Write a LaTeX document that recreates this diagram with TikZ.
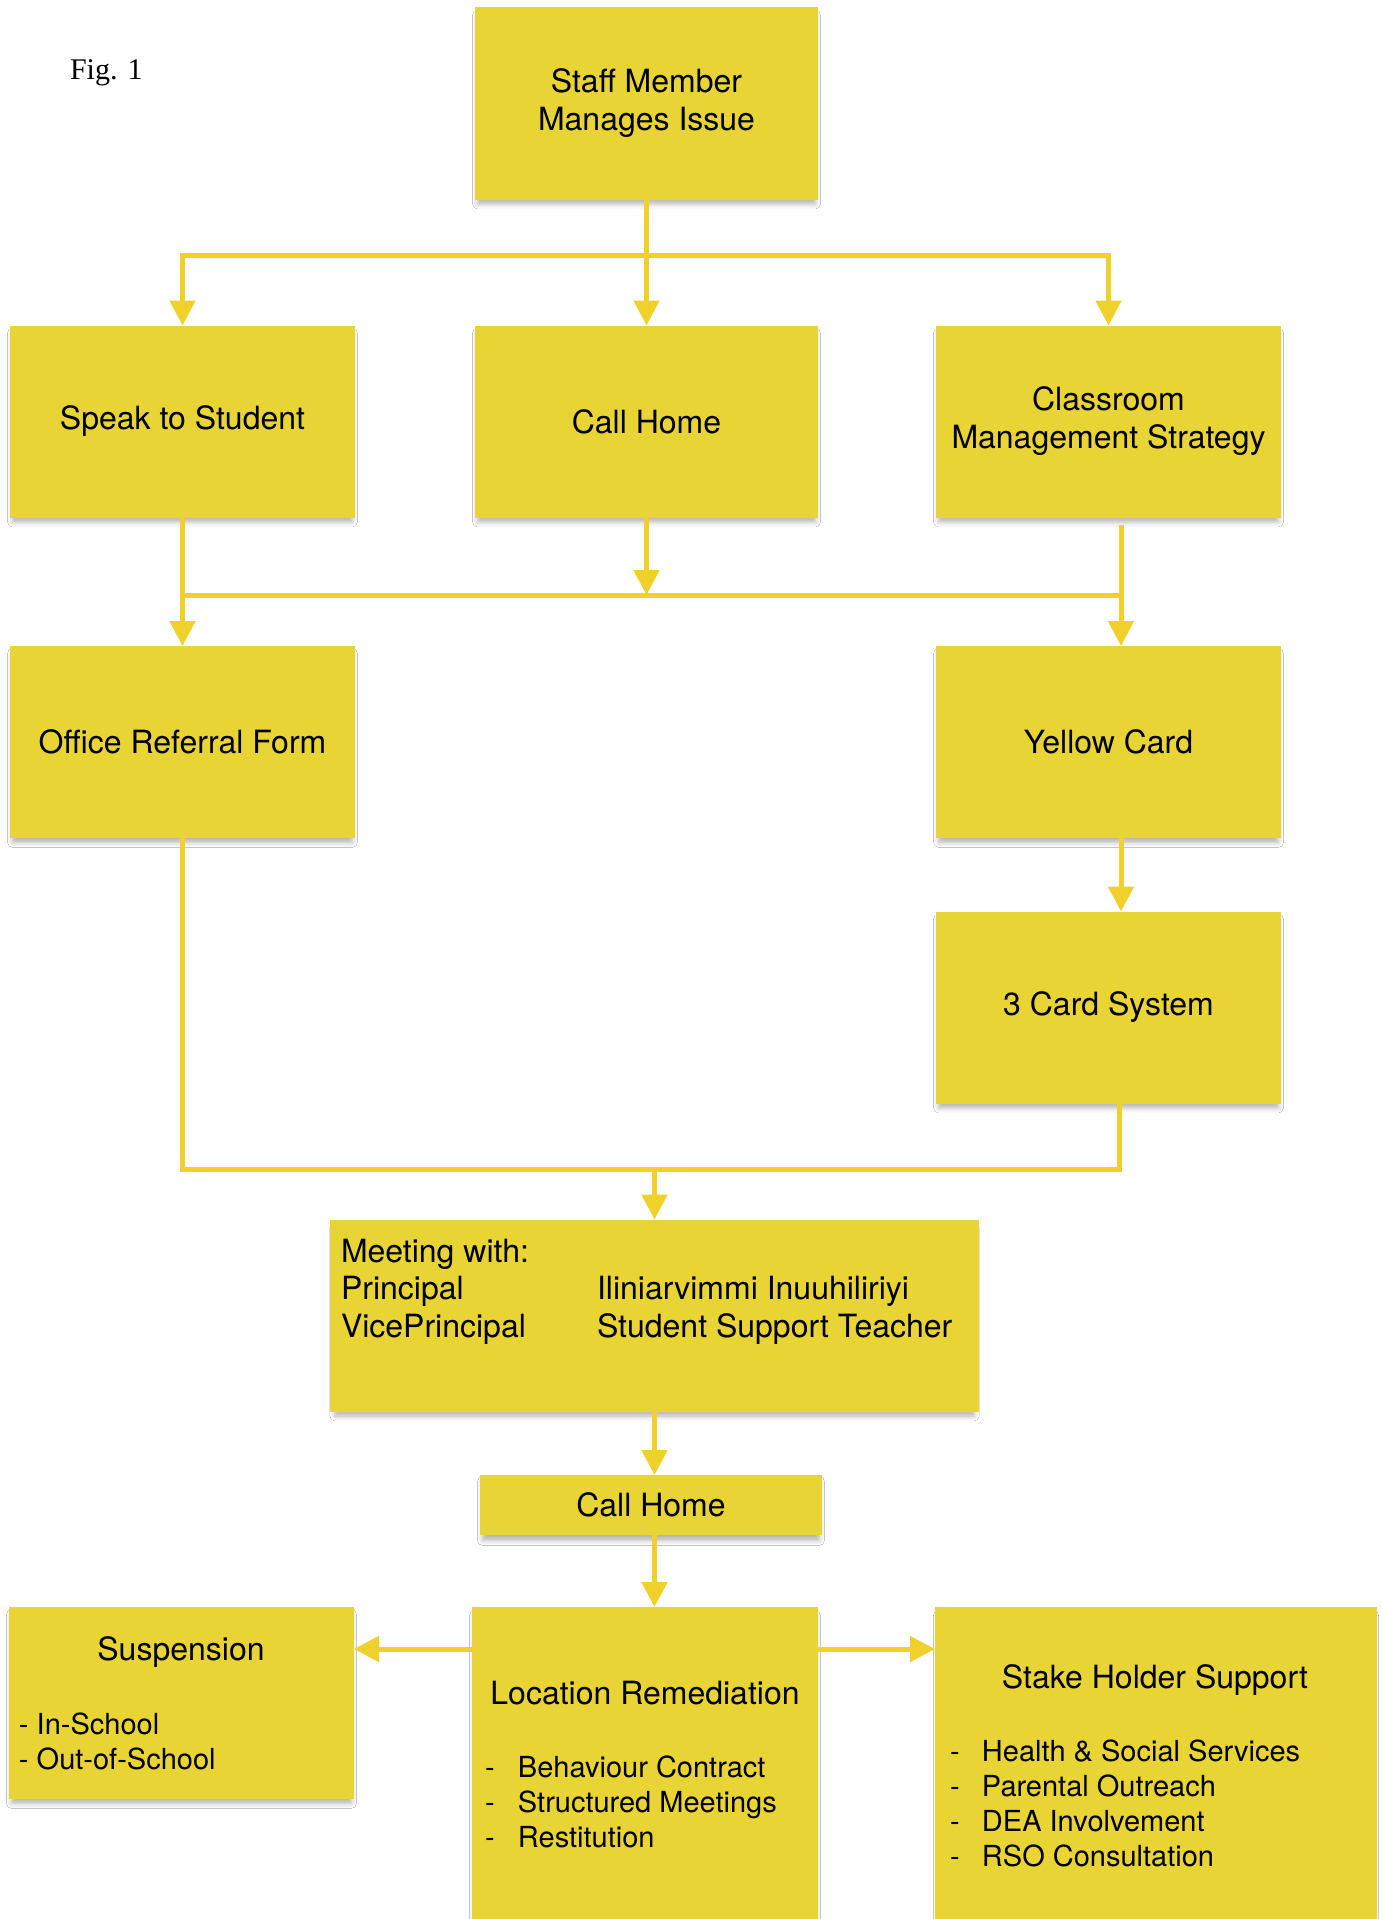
\documentclass[tikz,border=0pt]{standalone}
\usepackage{fontspec}
\setmainfont{TeX Gyre Heros}
\newfontfamily\figfont{Liberation Serif}
\definecolor{cardyellow}{RGB}{232,212,52}
\definecolor{flowyellow}{RGB}{240,208,42}
\usetikzlibrary{arrows.meta,positioning,shadows.blur}

\begin{document}
\begin{tikzpicture}[x=1pt,y=-1pt,
    every node/.style={inner sep=0pt,outer sep=0pt},
    card/.style={fill=cardyellow,minimum width=345pt,minimum height=192pt,align=center,
      font=\fontsize{32}{38}\selectfont,
      blur shadow={shadow xshift=0pt,shadow yshift=-6pt,shadow blur radius=5pt,shadow scale=0.985,shadow opacity=30}},
    txt/.style={font=\fontsize{32}{37.5}\selectfont},
    lst/.style={font=\fontsize{29}{35}\selectfont,anchor=base west},
    link/.style={draw=flowyellow,line width=5pt},
    flow/.style={link,-{Triangle[width=25pt,length=25pt]}}
    ]
    \fill[white] (0,0) rectangle (1383,1919);
    \useasboundingbox (0,0) rectangle (1383,1919);

    \node (fig) [anchor=base west,font=\figfont\fontsize{30}{36}\selectfont] at (70,80) {Fig. 1};

    \node (staff) [card,minimum width=343pt] at (646.5,103.5) {Staff Member\\Manages Issue};
    \node (speak) [card] at (182.5,421.5) {Speak to Student};
    \node (calla) [card,minimum width=343pt] at (646.5,421.5) {Call Home};
    \node (cms) [card] at (1108.5,421.5) {Classroom\\Management Strategy};
    \node (office) [card] at (182.5,742) {Office Referral Form};
    \node (yellow) [card] at (1108.5,742) {Yellow Card};
    \node (three) [card] at (1108.5,1007.5) {3 Card System};
    \node (meet) [card,minimum width=649pt] at (654.5,1315.5) {};
    \node (callb) [card,minimum width=342pt,minimum height=60pt] at (651,1505) {Call Home};
    \node (susp) [card] at (181.5,1703) {};
    \node (loc) [card,minimum width=346pt,minimum height=340pt] at (645,1777) {};
    \node (stake) [card,minimum width=442pt,minimum height=340pt] at (1156,1777) {};

    % texts in the lower boxes
    \node (meettxt) [txt,anchor=base west] at (341,1262) {\begin{tabular}[t]{@{}p{256pt}@{}l@{}}
      Meeting with: & \\
      Principal & Iliniarvimmi Inuuhiliriyi\\
      VicePrincipal & Student Support Teacher
    \end{tabular}};
    \node (susptitle) [txt,anchor=base] at (181,1660) {Suspension};
    \node (susplist) [lst] at (19,1734) {\begin{tabular}[t]{@{}l@{}}
      - In-School\\
      - Out-of-School
    \end{tabular}};
    \node (loctitle) [txt,anchor=base] at (645,1704) {Location Remediation};
    \node (loclist) [lst] at (485,1777) {\begin{tabular}[t]{@{}p{33pt}@{}l@{}}
      - & Behaviour Contract\\
      - & Structured Meetings\\
      - & Restitution
    \end{tabular}};
    \node (staketitle) [txt,anchor=base] at (1155,1688) {Stake Holder Support};
    \node (stakelist) [lst] at (950,1761) {\begin{tabular}[t]{@{}p{32pt}@{}l@{}}
      - & Health \& Social Services\\
      - & Parental Outreach\\
      - & DEA Involvement\\
      - & RSO Consultation
    \end{tabular}};

    % the edges
    \coordinate (topj) at (646.5,255);
    \coordinate (midj) at (646.5,595);
    \coordinate (lowj) at (654.5,1169);
    \draw[link] (staff.south) -- (topj);
    \draw[flow] (topj) -| (speak.north);
    \draw[flow] (topj) -- (calla.north);
    \draw[flow] (topj) -| (cms.north);
    \draw[flow] (speak.south) -- (office.north);
    \draw[flow] (calla.south) -- (midj);
    \draw[flow] ([xshift=12.5pt,yshift=-7pt]cms.south) -- ([xshift=12.5pt]yellow.north);
    \draw[link] (speak.south |- midj) -- ([xshift=12.5pt]cms.south |- midj);
    \draw[flow] ([xshift=12.5pt]yellow.south) -- ([xshift=12.5pt]three.north);
    \draw[link] (office.south) |- (lowj) -| ([xshift=10.5pt]three.south);
    \draw[flow] (lowj) -- (meet.north);
    \draw[flow] (meet.south) -- (meet.south |- callb.north);
    \draw[flow] (meet.south |- callb.south) -- (meet.south |- loc.north);
    \draw[flow] ([yshift=-42pt]loc.north west) -- ([yshift=-42pt]susp.north east);
    \draw[flow] ([yshift=-42pt]loc.north east) -- ([yshift=-42pt]stake.north west);
\end{tikzpicture}
\end{document}
